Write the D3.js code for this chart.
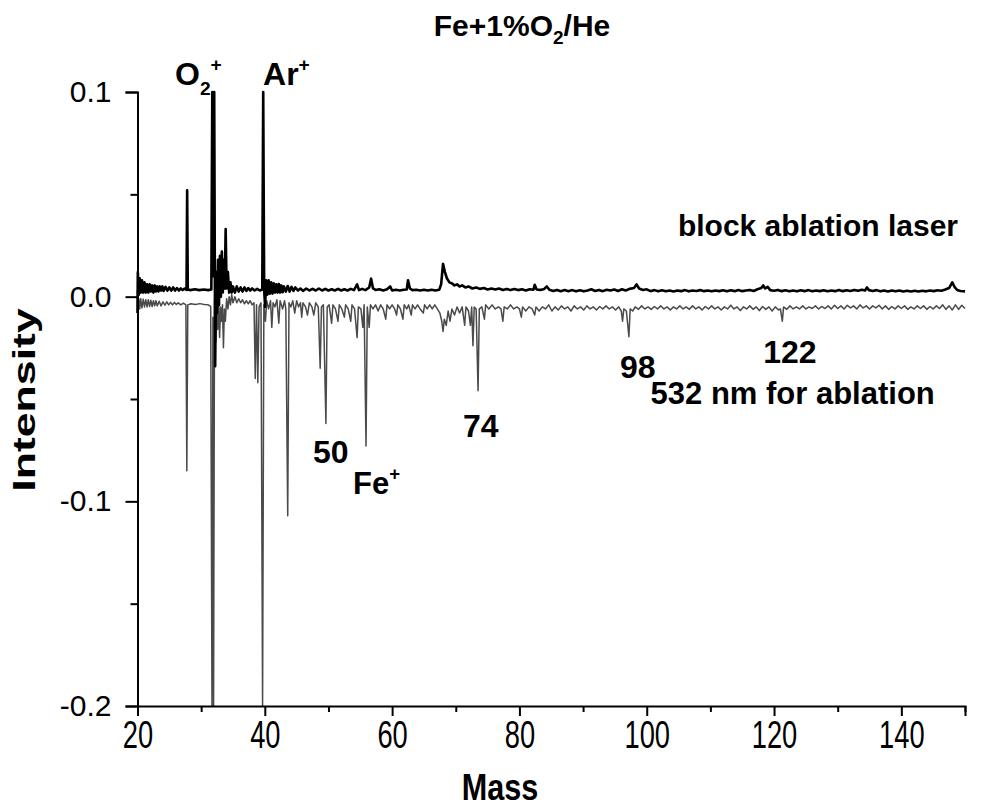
<!DOCTYPE html>
<html>
<head>
<meta charset="utf-8">
<script src="https://cdn.jsdelivr.net/npm/d3@7"></script>
<style>
  body { margin: 0; background: #fff; }
  text { font-family: "Liberation Sans", Arial, sans-serif; fill: #000; }
</style>
</head>
<body>
<div id="chart"></div>
<script>
// upper trace: block ablation laser  [mass, intensity]
var upperTrace = [
  [20.0,-0.008],[20.05,0.012],[20.2,0.001],[20.35,0.009],[20.5,0.002],[20.7,0.008],[20.9,0.002],[21.1,0.007],
  [21.3,0.002],[21.5,0.006],[21.7,0.002],[21.9,0.006],[22.1,0.0025],[22.3,0.0055],[22.5,0.002],[22.7,0.0055],
  [22.9,0.0025],[23.1,0.005],[23.3,0.0025],[23.5,0.005],[23.7,0.003],[23.9,0.005],[24.1,0.0028],[24.4,0.0048],
  [24.7,0.003],[25.0,0.0045],[25.3,0.003],[25.6,0.0045],[25.9,0.003],[26.2,0.0042],[26.5,0.003],[26.8,0.004],
  [27.1,0.0032],[27.4,0.004],[27.7,0.0033],[27.8,0.052],[27.9,0.0035],[28.3,0.0032],[29,0.0036],[29.7,0.0032],
  [30.4,0.0035],[31.1,0.0032],[31.6,0.0035],[31.75,0.1],[31.9,0.01],[32.05,0.1],[32.2,-0.034],[32.35,0.012],
  [32.5,-0.008],[32.65,0.018],[32.8,-0.004],[32.95,0.02],[33.1,0.0],[33.25,0.022],[33.4,0.002],[33.55,0.018],
  [33.7,0.004],[33.85,0.033],[34.0,0.004],[34.2,0.012],[34.4,0.002],[34.6,0.007],[34.8,0.002],[35.0,0.005],
  [35.3,0.002],[35.6,0.005],[35.9,0.0025],[36.2,0.0045],[36.5,0.0025],[36.8,0.0045],[37.1,0.0028],[37.4,0.0042],
  [37.7,0.003],[38.0,0.004],[38.4,0.003],[38.8,0.0038],[39.2,0.003],[39.6,0.0035],[39.75,0.1],[39.9,0.003],
  [40.05,-0.005],[40.2,0.008],[40.4,0.001],[40.6,0.008],[40.8,0.0015],[41.0,0.007],[41.2,0.0015],[41.4,0.0065],
  [41.6,0.002],[41.8,0.006],[42.0,0.002],[42.2,0.0062],[42.4,0.002],[42.6,0.0055],[42.8,0.0022],[43.0,0.005],
  [43.3,0.0025],[43.6,0.0052],[43.9,0.0025],[44.2,0.0048],[44.5,0.0028],[44.8,0.0045],[45.2,0.003],[45.6,0.004],
  [46.0,0.0028],[46.5,0.004],[47.0,0.003],[47.5,0.0038],[48.0,0.003],[48.5,0.004],[49.0,0.003],[49.5,0.0038],
  [50.0,0.003],[50.5,0.0036],[51,0.003],[51.5,0.0038],[52,0.003],[52.5,0.0036],[53,0.003],[53.5,0.0038],
  [54,0.0032],[54.5,0.006],[54.8,0.0032],[55.3,0.0038],[55.8,0.0032],[56.4,0.0045],[56.7,0.0088],[57.0,0.004],
  [57.4,0.0033],[58,0.0036],[58.6,0.003],[59.2,0.0036],[59.7,0.005],[60,0.003],[60.6,0.0034],[61.2,0.003],
  [61.8,0.0034],[62.3,0.0035],[62.5,0.008],[62.8,0.004],[63.2,0.0032],[63.8,0.0034],[64.4,0.003],[65,0.0034],
  [65.6,0.003],[66.2,0.0034],[66.8,0.003],[67.4,0.0034],[67.7,0.006],[68.0,0.016],[68.3,0.012],[68.6,0.009],
  [69.0,0.007],[69.4,0.0065],[69.8,0.0055],[70.2,0.006],[70.6,0.005],[71,0.0055],[71.5,0.0045],[72,0.005],
  [72.6,0.004],[73.2,0.0045],[73.8,0.0038],[74.4,0.0042],[75,0.0035],[75.6,0.004],[76.2,0.0035],[76.8,0.004],
  [77.4,0.0033],[78,0.0038],[78.6,0.0032],[79.2,0.0037],[79.8,0.0032],[80.4,0.0036],[81,0.003],[81.6,0.0036],
  [82.2,0.0034],[82.4,0.0058],[82.7,0.0035],[83.3,0.0033],[83.9,0.0038],[84.3,0.005],[84.7,0.0034],[85.3,0.0028],
  [85.9,0.0033],[86.5,0.0027],[87.1,0.0032],[87.7,0.0027],[88.3,0.0032],[88.9,0.0026],[89.5,0.0031],[90.1,0.0026],
  [90.7,0.003],[91.3,0.0036],[91.9,0.0028],[92.5,0.0033],[93.1,0.0027],[93.7,0.0034],[94.3,0.003],[94.9,0.0035],
  [95.5,0.0028],[96.1,0.0036],[96.7,0.003],[97.3,0.0038],[98.0,0.0042],[98.4,0.006],[98.8,0.004],[99.4,0.0033],
  [100,0.0036],[100.6,0.0027],[101.2,0.0032],[101.8,0.0026],[102.4,0.0031],[103,0.0026],[103.6,0.003],[104.2,0.0025],
  [104.8,0.003],[105.4,0.0027],[106,0.0032],[106.6,0.0026],[107.2,0.003],[107.8,0.0028],[108.4,0.0032],[109,0.0027],
  [109.6,0.003],[110.2,0.0026],[110.8,0.003],[111.4,0.0027],[112,0.0031],[112.6,0.0026],[113.2,0.0031],[113.8,0.0027],
  [114.4,0.0032],[115,0.0027],[115.6,0.003],[116.2,0.0033],[116.8,0.0028],[117.4,0.0036],[118.0,0.0042],[118.3,0.0055],
  [118.6,0.004],[119,0.0048],[119.4,0.0032],[120,0.0029],[120.6,0.0033],[121.2,0.0027],[121.8,0.0031],[122.4,0.0026],
  [123,0.003],[123.6,0.0026],[124.2,0.0031],[124.8,0.0027],[125.4,0.0032],[126,0.0026],[126.6,0.003],[127.2,0.0027],
  [127.8,0.0031],[128.4,0.0026],[129,0.003],[129.6,0.0027],[130.2,0.0032],[130.8,0.0027],[131.4,0.0031],[132,0.0028],
  [132.6,0.0033],[133.2,0.0029],[133.8,0.0034],[134.3,0.003],[134.6,0.0045],[134.9,0.0032],[135.5,0.0028],[136.1,0.0032],
  [136.7,0.0026],[137.3,0.003],[137.9,0.0025],[138.5,0.003],[139.1,0.0026],[139.7,0.003],[140.3,0.0025],[140.9,0.0029],
  [141.5,0.0025],[142.1,0.0029],[142.7,0.0025],[143.3,0.0029],[143.9,0.0026],[144.5,0.003],[145.1,0.0027],[145.7,0.0031],
  [146.3,0.0029],[146.9,0.0035],[147.5,0.0042],[148.0,0.007],[148.4,0.0045],[148.8,0.0032],[149.3,0.0028],[150,0.0026]
];

// lower trace: 532 nm for ablation  [mass, intensity]
var lowerTrace = [
  [20.0,0.003],[20.05,-0.01],[20.2,-0.001],[20.35,-0.006],[20.5,-0.001],[20.7,-0.0055],[20.9,-0.0012],[21.1,-0.005],
  [21.3,-0.0015],[21.5,-0.005],[21.7,-0.0015],[21.9,-0.0048],[22.1,-0.0018],[22.3,-0.0048],[22.5,-0.002],[22.7,-0.0045],
  [22.9,-0.002],[23.1,-0.0045],[23.4,-0.0022],[23.7,-0.0045],[24,-0.0025],[24.3,-0.0042],[24.6,-0.0025],[24.9,-0.004],
  [25.2,-0.0028],[25.5,-0.004],[25.8,-0.0028],[26.1,-0.0038],[26.4,-0.003],[26.8,-0.004],[27.2,-0.0032],[27.6,-0.004],
  [27.75,-0.085],[27.9,-0.004],[28.4,-0.0035],[29.1,-0.0038],[29.8,-0.0034],[30.5,-0.0038],[31.1,-0.004],[31.5,-0.0048],
  [31.7,-0.2],[31.85,-0.01],[31.95,-0.2],[32.1,-0.002],[32.3,-0.022],[32.45,-0.006],[32.6,-0.016],[32.75,-0.004],
  [32.9,-0.02],[33.05,-0.005],[33.2,-0.012],[33.35,-0.004],[33.5,-0.025],[33.65,-0.006],[33.8,-0.012],[34.0,-0.001],
  [34.2,-0.006],[34.4,0.0],[34.6,-0.004],[34.8,0.001],[35.0,-0.003],[35.3,0.0],[35.6,-0.003],[35.9,-0.001],
  [36.2,-0.003],[36.5,-0.0015],[36.8,-0.0035],[37.1,-0.002],[37.4,-0.0035],[37.7,-0.002],[38.0,-0.004],[38.3,-0.003],
  [38.5,-0.04],[38.7,-0.004],[38.9,-0.042],[39.1,-0.005],[39.4,-0.003],[39.65,-0.2],[39.85,-0.004],[40.1,-0.012],
  [40.3,-0.002],[40.6,-0.006],[40.9,-0.002],[41.1,-0.015],[41.3,-0.003],[41.6,-0.005],[41.9,-0.0015],[42.2,-0.013],
  [42.4,-0.002],[42.8,-0.006],[43.1,-0.002],[43.3,-0.006],[43.6,-0.107],[43.8,-0.003],[44.1,-0.005],[44.4,-0.002],
  [44.7,-0.008],[45.0,-0.002],[45.3,-0.005],[45.6,-0.003],[45.8,-0.01],[46.0,-0.003],[46.4,-0.005],[46.7,-0.009],
  [47.0,-0.003],[47.4,-0.005],[47.7,-0.009],[48.0,-0.003],[48.4,-0.005],[48.7,-0.035],[48.9,-0.005],[49.2,-0.004],
  [49.6,-0.062],[49.8,-0.005],[50.1,-0.004],[50.5,-0.013],[50.7,-0.004],[51.1,-0.006],[51.5,-0.012],[51.7,-0.004],
  [52.1,-0.006],[52.5,-0.01],[52.7,-0.004],[53.1,-0.006],[53.5,-0.012],[53.7,-0.004],[54.1,-0.006],[54.5,-0.02],
  [54.7,-0.005],[55.1,-0.006],[55.4,-0.015],[55.6,-0.004],[55.9,-0.073],[56.1,-0.005],[56.4,-0.015],[56.6,-0.004],
  [57.0,-0.006],[57.4,-0.004],[57.8,-0.007],[58.2,-0.004],[58.6,-0.006],[59.0,-0.011],[59.2,-0.004],[59.6,-0.006],
  [60.0,-0.004],[60.4,-0.006],[60.7,-0.009],[60.9,-0.004],[61.3,-0.006],[61.7,-0.011],[61.9,-0.004],[62.3,-0.006],
  [62.6,-0.004],[63.0,-0.009],[63.2,-0.004],[63.6,-0.006],[64.0,-0.004],[64.4,-0.006],[64.9,-0.008],[65.1,-0.004],
  [65.5,-0.006],[65.9,-0.004],[66.3,-0.006],[66.7,-0.004],[67.1,-0.006],[67.5,-0.008],[67.8,-0.012],[68.0,-0.017],
  [68.2,-0.011],[68.5,-0.014],[68.8,-0.007],[69.1,-0.012],[69.4,-0.006],[69.8,-0.009],[70.2,-0.005],[70.6,-0.008],
  [71.0,-0.005],[71.4,-0.014],[71.6,-0.005],[72.0,-0.007],[72.3,-0.014],[72.5,-0.005],[72.7,-0.024],[72.9,-0.005],
  [73.2,-0.006],[73.5,-0.046],[73.7,-0.006],[74.1,-0.005],[74.5,-0.011],[74.7,-0.004],[75.2,-0.006],[75.7,-0.004],
  [76.2,-0.006],[76.7,-0.005],[77.1,-0.006],[77.4,-0.012],[77.6,-0.005],[78.1,-0.006],[78.6,-0.004],[79.1,-0.006],
  [79.6,-0.005],[80.0,-0.006],[80.3,-0.01],[80.5,-0.005],[81.0,-0.007],[81.5,-0.005],[82.0,-0.006],[82.4,-0.009],
  [82.6,-0.005],[83.1,-0.007],[83.6,-0.005],[84.1,-0.006],[84.6,-0.004],[85.1,-0.007],[85.6,-0.005],[86.1,-0.0065],
  [86.6,-0.0045],[87.1,-0.006],[87.6,-0.005],[88.1,-0.007],[88.6,-0.0045],[89.1,-0.006],[89.6,-0.005],[90.1,-0.0065],
  [90.6,-0.0045],[91.1,-0.006],[91.6,-0.005],[92.1,-0.0065],[92.6,-0.0048],[93.1,-0.006],[93.6,-0.0045],[94.1,-0.006],
  [94.6,-0.005],[95.1,-0.0065],[95.6,-0.005],[96.0,-0.007],[96.2,-0.012],[96.4,-0.006],[96.8,-0.007],[97.2,-0.0196],
  [97.4,-0.006],[97.8,-0.007],[98.2,-0.005],[98.7,-0.0062],[99.2,-0.0045],[99.7,-0.006],[100.2,-0.005],[100.7,-0.0062],
  [101.2,-0.0048],[101.7,-0.006],[102.2,-0.0045],[102.7,-0.006],[103.2,-0.005],[103.7,-0.0065],[104.2,-0.005],[104.7,-0.006],
  [105.2,-0.0045],[105.7,-0.006],[106.2,-0.005],[106.7,-0.0062],[107.2,-0.0045],[107.7,-0.006],[108.2,-0.005],[108.7,-0.0065],
  [109.2,-0.0048],[109.7,-0.006],[110.2,-0.0045],[110.7,-0.006],[111.2,-0.005],[111.7,-0.0065],[112.2,-0.005],[112.7,-0.006],
  [113.2,-0.0042],[113.7,-0.006],[114.2,-0.005],[114.7,-0.0068],[115.2,-0.005],[115.7,-0.006],[116.2,-0.0045],[116.7,-0.0062],
  [117.2,-0.005],[117.7,-0.0068],[118.2,-0.0048],[118.7,-0.0062],[119.2,-0.005],[119.7,-0.007],[120.2,-0.005],[120.7,-0.0065],
  [121.0,-0.006],[121.3,-0.012],[121.5,-0.005],[122.0,-0.0062],[122.5,-0.0045],[123.0,-0.006],[123.5,-0.005],[124.0,-0.006],
  [124.5,-0.0045],[125.0,-0.006],[125.5,-0.005],[126.0,-0.0058],[126.5,-0.0045],[127.0,-0.006],[127.5,-0.0048],[128.0,-0.0058],
  [128.5,-0.0045],[129.0,-0.006],[129.5,-0.0042],[130.0,-0.0058],[130.5,-0.0045],[131.0,-0.006],[131.5,-0.0042],[132.0,-0.0055],
  [132.5,-0.0045],[133.0,-0.006],[133.5,-0.004],[134.0,-0.0055],[134.5,-0.0045],[135.0,-0.006],[135.5,-0.0045],[136.0,-0.0055],
  [136.5,-0.0042],[137.0,-0.006],[137.5,-0.0045],[138.0,-0.0062],[138.5,-0.0048],[139.0,-0.006],[139.5,-0.0045],[140.0,-0.0058],
  [140.5,-0.0045],[141.0,-0.0062],[141.5,-0.005],[142.0,-0.006],[142.5,-0.0045],[143.0,-0.0058],[143.5,-0.0045],[144.0,-0.0062],
  [144.5,-0.0048],[145.0,-0.006],[145.5,-0.0045],[146.0,-0.0058],[146.5,-0.004],[147.0,-0.0062],[147.5,-0.0045],[148.0,-0.0065],
  [148.5,-0.004],[149.0,-0.0062],[149.5,-0.0042],[150.0,-0.0058]
];

var xMajorTicks = [20, 40, 60, 80, 100, 120, 140];
var xMinorTicks = [30, 50, 70, 90, 110, 130, 150];
var yMajorTicks = [0.1, 0.0, -0.1, -0.2];
var yMinorTicks = [0.05, -0.05, -0.15];

var margin = {top: 92, right: 32, bottom: 103, left: 137.5},
    width = 997 - margin.left - margin.right,
    height = 809 - margin.top - margin.bottom;

var svg = d3.select("#chart")
  .append("svg")
    .attr("width", 997)
    .attr("height", 809)
  .append("g")
    .attr("transform", "translate(" + margin.left + "," + margin.top + ")");

var x = d3.scaleLinear().domain([20, 150]).range([0, width]);
var y = d3.scaleLinear().domain([-0.2, 0.1]).range([height, 0]);

var line = d3.line()
    .x(function(d) { return x(d[0]); })
    .y(function(d) { return y(d[1]); });

// lower (gray) trace first, black trace on top
svg.append("path")
    .datum(lowerTrace)
    .attr("fill", "none")
    .attr("stroke", "#4a4a4a")
    .attr("stroke-width", 1.5)
    .attr("stroke-linejoin", "round")
    .attr("d", line);

svg.append("path")
    .datum(upperTrace)
    .attr("fill", "none")
    .attr("stroke", "#000")
    .attr("stroke-width", 2.6)
    .attr("stroke-linejoin", "round")
    .attr("d", line);

// X axis
var xAxis = svg.append("g")
    .attr("transform", "translate(0," + height + ")")
    .call(d3.axisBottom(x).tickValues(xMajorTicks).tickSize(10).tickFormat(d3.format("d")));
svg.append("g")
    .attr("transform", "translate(0," + height + ")")
    .call(d3.axisBottom(x).tickValues(xMinorTicks).tickSize(6).tickFormat(""))
    .select(".domain").remove();
xAxis.selectAll("text")
    .style("font-size", "31px")
    .attr("y", 42 / 1.25)
    .attr("dy", 0)
    .attr("transform", "scale(0.88,1.25)");

// Y axis
var yAxis = svg.append("g")
    .call(d3.axisLeft(y).tickValues(yMajorTicks).tickSize(12).tickFormat(d3.format(".1f")));
svg.append("g")
    .call(d3.axisLeft(y).tickValues(yMinorTicks).tickSize(7).tickFormat(""))
    .select(".domain").remove();
yAxis.selectAll("text")
    .style("font-size", "30px")
    .attr("x", -26)
    .text(function(d) { return d3.format(".1f")(d).replace("\u2212", "-"); });

svg.selectAll(".domain, .tick line")
    .attr("stroke", "#000")
    .attr("stroke-width", 2);

// axis titles
svg.append("text")
    .attr("transform", "translate(" + (500 - margin.left) + "," + (800 - margin.top) + ")scale(0.9,1.1)")
    .attr("text-anchor", "middle")
    .style("font-size", "34px")
    .style("font-weight", "bold")
    .text("Mass");

svg.append("text")
    .attr("transform", "translate(" + (35 - margin.left) + "," + (400 - margin.top) + ")rotate(-90)scale(1.44,1)")
    .attr("text-anchor", "middle")
    .style("font-size", "31px")
    .style("font-weight", "bold")
    .text("Intensity");

// title
var title = svg.append("text")
    .attr("x", 522 - margin.left)
    .attr("y", 36 - margin.top)
    .attr("text-anchor", "middle")
    .style("font-size", "30px")
    .style("font-weight", "bold");
title.append("tspan").text("Fe+1%O");
title.append("tspan").attr("dy", 8).style("font-size", "19px").text("2");
title.append("tspan").attr("dy", -8).text("/He");

// annotations
function label(mx, my, parts, size) {
  var t = svg.append("text")
      .attr("x", x(mx))
      .attr("y", y(my))
      .style("font-size", size + "px")
      .style("font-weight", "bold");
  var shift = 0;
  parts.forEach(function(p) {
    var target = p[1] === "sub" ? size * 0.3 : (p[1] === "sup" ? -size * 0.45 : 0);
    var ts = t.append("tspan").attr("dy", target - shift).text(p[0]);
    if (p[1]) ts.style("font-size", (size * 0.6) + "px");
    shift = target;
  });
}

label(25.9, 0.1034, [["O"], ["2", "sub"], ["+", "sup"]], 32);
label(39.72, 0.1034, [["Ar"], ["+", "sup"]], 32);
label(104.9, 0.0294, [["block ablation laser"]], 30);
label(95.8, -0.0397, [["98"]], 32);
label(118.3, -0.0324, [["122"]], 32);
label(100.6, -0.0525, [["532 nm for ablation"]], 31);
label(71.14, -0.0686, [["74"]], 32);
label(47.57, -0.0814, [["50"]], 32);
label(53.86, -0.0966, [["Fe"], ["+", "sup"]], 31);
</script>
</body>
</html>
